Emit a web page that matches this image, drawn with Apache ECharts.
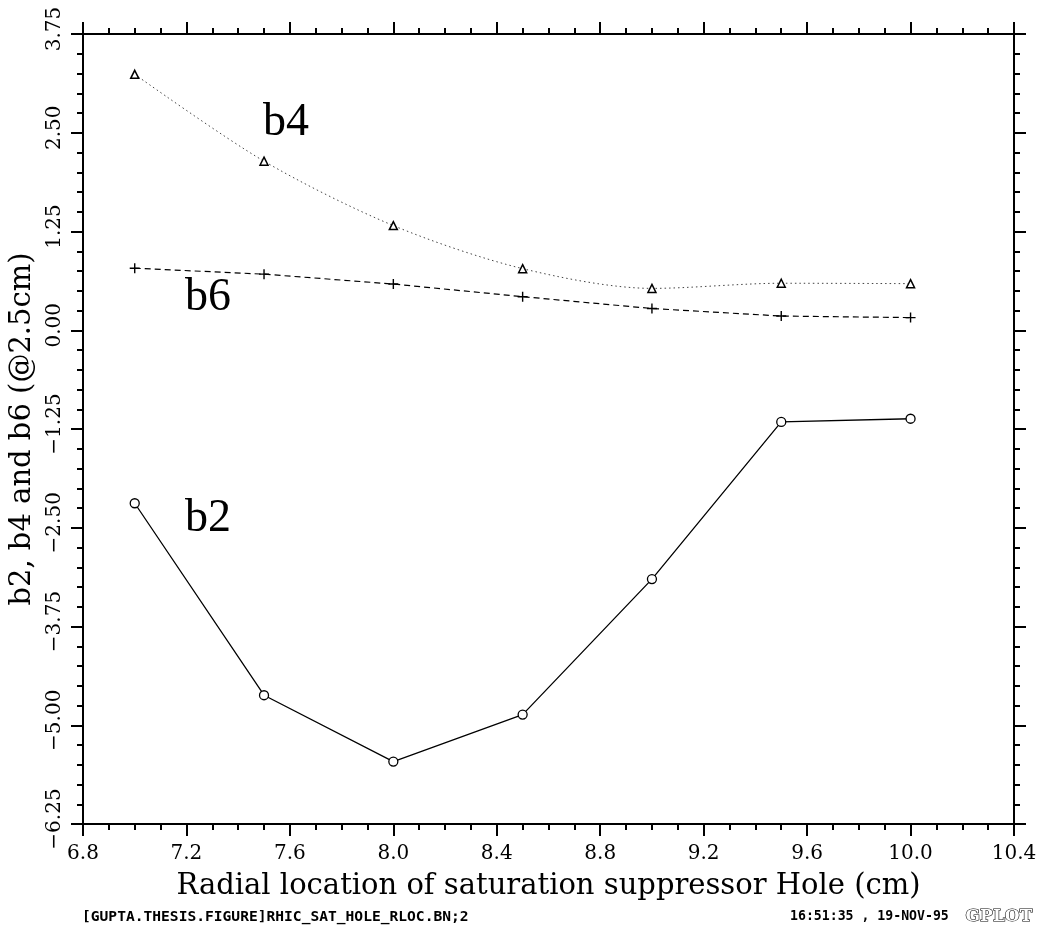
<!DOCTYPE html>
<html>
<head>
<meta charset="utf-8">
<script src="https://cdn.jsdelivr.net/npm/echarts@6/dist/echarts.min.js"></script>
<style>html,body{margin:0;padding:0;background:#fff;}#c{width:1045px;height:934px;}</style>
</head>
<body>
<div id="c"></div>
<script>
const xs = [7.0, 7.5, 8.0, 8.5, 9.0, 9.5, 10.0];
const b4 = [3.24, 2.14, 1.325, 0.78, 0.53, 0.595, 0.59];
const b6 = [0.785, 0.71, 0.585, 0.425, 0.275, 0.18, 0.16];
const b2 = [-2.19, -4.62, -5.46, -4.865, -3.15, -1.16, -1.12];
const xTitle = 'Radial location of saturation suppressor Hole (cm)';
const yTitle = 'b2, b4 and b6 (@2.5cm)';
const footLeft = '[GUPTA.THESIS.FIGURE]RHIC_SAT_HOLE_RLOC.BN;2';
const footRight = '16:51:35 , 19-NOV-95';
const footTag = 'GPLOT';

const pts = arr => xs.map((x, i) => [x, arr[i]]);
const serif = 'DejaVu Serif';
const fmtY = v => '\u2002' + (v < 0 ? '\u2212' : '') + Math.abs(v).toFixed(2);

const chart = echarts.init(document.getElementById('c'), null, {renderer: 'canvas'});
const axisCommon = {
  type: 'value',
  axisLine: {show: true, onZero: false, lineStyle: {color: '#000', width: 2}},
  axisTick: {show: true, inside: false, length: 12, lineStyle: {color: '#000', width: 2}},
  minorTick: {show: true, length: 6, lineStyle: {color: '#000', width: 2}},
  splitLine: {show: false},
  minorSplitLine: {show: false}
};
chart.setOption({
  animation: false,
  backgroundColor: '#fff',
  grid: {left: 83, top: 34, right: 31, bottom: 110},
  xAxis: [
    Object.assign({}, axisCommon, {
      min: 6.8, max: 10.4, interval: 0.4, position: 'bottom',
      minorTick: Object.assign({}, axisCommon.minorTick, {splitNumber: 4}),
      axisLabel: {margin: 20, color: '#000', fontFamily: serif, fontSize: 20, formatter: v => v.toFixed(1)},
      name: xTitle, nameLocation: 'middle', nameGap: 48,
      nameTextStyle: {fontFamily: serif, fontSize: 29, color: '#000'}
    }),
    Object.assign({}, axisCommon, {
      min: 6.8, max: 10.4, interval: 0.4, position: 'top',
      minorTick: Object.assign({}, axisCommon.minorTick, {splitNumber: 4}),
      axisLabel: {show: false}
    })
  ],
  yAxis: [
    Object.assign({}, axisCommon, {
      min: -6.25, max: 3.75, interval: 1.25, position: 'left',
      minorTick: Object.assign({}, axisCommon.minorTick, {splitNumber: 5}),
      axisLabel: {margin: 18, rotate: 90, color: '#000', fontFamily: serif, fontSize: 20, formatter: fmtY},
      name: yTitle, nameLocation: 'middle', nameGap: 46, nameRotate: 90,
      nameTextStyle: {fontFamily: serif, fontSize: 29, color: '#000'}
    }),
    Object.assign({}, axisCommon, {
      min: -6.25, max: 3.75, interval: 1.25, position: 'right',
      minorTick: Object.assign({}, axisCommon.minorTick, {splitNumber: 5}),
      axisLabel: {show: false}
    })
  ],
  series: [
    {
      name: 'b4', type: 'line', data: pts(b4), smooth: 0.3,
      symbol: 'triangle', symbolSize: 8,
      itemStyle: {color: '#fff', borderColor: '#000', borderWidth: 1.5},
      lineStyle: {color: '#444', width: 1, type: [1.5, 3]}
    },
    {
      name: 'b6', type: 'line', data: pts(b6),
      symbol: 'path://M4.3,0H5.7V10H4.3ZM0,4.3H10V5.7H0Z', symbolSize: 10,
      itemStyle: {color: '#000'},
      lineStyle: {color: '#000', width: 1.2, type: [6, 4]}
    },
    {
      name: 'b2', type: 'line', data: pts(b2),
      symbol: 'circle', symbolSize: 9,
      itemStyle: {color: '#fff', borderColor: '#000', borderWidth: 1.3},
      lineStyle: {color: '#000', width: 1.3}
    }
  ],
  graphic: [
    {type: 'text', left: 263, top: 100, style: {text: 'b4', font: '46px "Liberation Serif"', fill: '#000'}},
    {type: 'text', left: 185, top: 275, style: {text: 'b6', font: '46px "Liberation Serif"', fill: '#000'}},
    {type: 'text', left: 185, top: 496, style: {text: 'b2', font: '46px "Liberation Serif"', fill: '#000'}},
    {type: 'text', left: 82, top: 910, style: {text: footLeft, font: 'bold 14.6px "DejaVu Sans Mono"', fill: '#000'}},
    {type: 'text', left: 790, top: 910, style: {text: footRight, font: 'bold 13.2px "DejaVu Sans Mono"', fill: '#000'}},
    {type: 'text', left: 965, top: 907, style: {text: footTag, font: 'bold 17px "DejaVu Serif"', fill: '#fff', stroke: '#000', lineWidth: 1.2}}
  ]
});
</script>
</body>
</html>
